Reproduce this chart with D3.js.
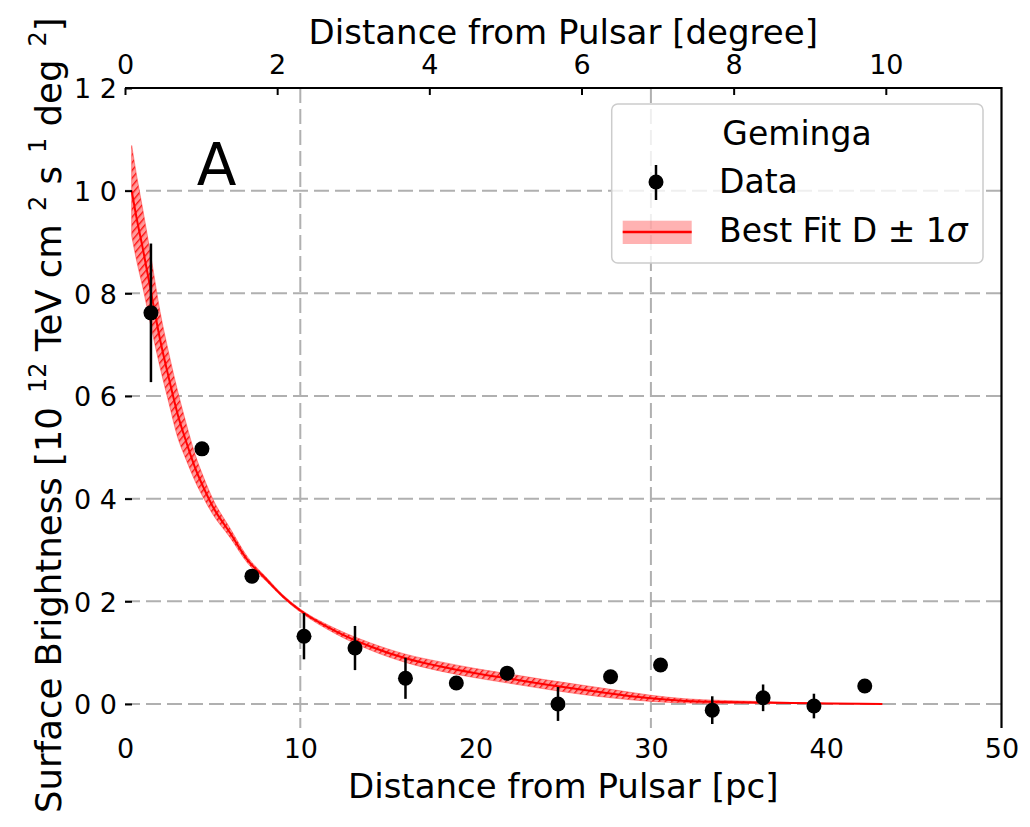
<!DOCTYPE html>
<html><head><meta charset="utf-8">
<script src="https://cdn.jsdelivr.net/npm/d3@7"></script>
<style>
html,body{margin:0;padding:0;background:#fff;}
svg text{font-family:"DejaVu Sans",sans-serif;fill:#000;}
</style></head>
<body>
<svg id="chart" width="1030" height="827"></svg>
<script>
// ---------------- data ----------------
const xTickValues = [0, 10, 20, 30, 40, 50];
const xTickLabels = ["0", "10", "20", "30", "40", "50"];
const yTickValues = [0, 0.2, 0.4, 0.6, 0.8, 1.0, 1.2];
const yTickLabels = ["0 0", "0 2", "0 4", "0 6", "0 8", "1 0", "1 2"];
const topTickValues = [0, 2, 4, 6, 8, 10];
const topTickLabels = ["0", "2", "4", "6", "8", "10"];
const xGridValues = [10, 30];
const yGridValues = [0, 0.2, 0.4, 0.6, 0.8, 1.0];
const pcPerDegree = 4.34;

// data points (pc, surface brightness, 1 sigma)
const dataX   = [1.48, 4.39, 7.24, 10.21, 13.12, 16.0, 18.9, 21.8, 24.7, 27.7, 30.55, 33.5, 36.4, 39.3, 42.2];
const dataY   = [0.762, 0.497, 0.249, 0.132, 0.109, 0.050, 0.041, 0.060, 0.000, 0.053, 0.076, -0.012, 0.012, -0.004, 0.035];
const dataErr = [0.135, 0.012, 0.010, 0.045, 0.043, 0.040, 0.008, 0.008, 0.033, 0.008, 0.008, 0.027, 0.026, 0.024, 0.008];

// best-fit curve and +-1 sigma band
const fitX     = [0.38, 0.7, 1.0, 1.5, 2.0, 2.5, 3.0, 3.5, 4.0, 4.5, 5.0, 6.0, 7.0, 8.0, 9.0, 10.0, 12.0, 14.0, 16.0, 18.0, 20.0, 22.0, 24.0, 26.0, 28.0, 30.0, 32.0, 34.0, 36.0, 38.0, 40.0, 43.2];
const fitY     = [1.000, 0.940, 0.890, 0.800, 0.710, 0.635, 0.565, 0.510, 0.460, 0.420, 0.385, 0.333, 0.280, 0.245, 0.210, 0.182, 0.142, 0.112, 0.089, 0.073, 0.060, 0.049, 0.038, 0.028, 0.019, 0.011, 0.006, 0.004, 0.003, 0.002, 0.001, 0.000];
const bandHigh = [1.088, 1.022, 0.966, 0.867, 0.764, 0.683, 0.610, 0.545, 0.486, 0.440, 0.400, 0.342, 0.286, 0.249, 0.213, 0.185, 0.147, 0.119, 0.097, 0.082, 0.069, 0.058, 0.047, 0.037, 0.027, 0.017, 0.010, 0.007, 0.005, 0.003, 0.0015, 0.000];
const bandLow  = [0.912, 0.858, 0.814, 0.733, 0.656, 0.587, 0.520, 0.475, 0.434, 0.400, 0.370, 0.324, 0.274, 0.241, 0.207, 0.179, 0.137, 0.105, 0.081, 0.064, 0.051, 0.040, 0.029, 0.019, 0.011, 0.005, 0.002, 0.001, 0.001, 0.001, 0.0005, 0.000];

// ---------------- layout ----------------
const svg = d3.select("#chart");
const L = 125, R = 1001.5, T = 88, B = 728;
const x = d3.scaleLinear().domain([0, 50]).range([L, R]);
const xTop = d3.scaleLinear().domain([0, 50 / pcPerDegree]).range([L, R]);
const y = d3.scaleLinear().domain([-0.0468, 1.2]).range([B, T]);

const defs = svg.append("defs");
const pat = defs.append("pattern").attr("id", "hatch").attr("patternUnits", "userSpaceOnUse")
  .attr("width", 5).attr("height", 5).attr("patternTransform", "rotate(40)");
pat.append("rect").attr("width", 5).attr("height", 5).attr("fill", "#ff9a9a");
pat.append("line").attr("x1", 0).attr("y1", 0).attr("x2", 0).attr("y2", 5)
  .attr("stroke", "#ff1010").attr("stroke-width", 2.8);

// grid
const grid = svg.append("g").attr("stroke", "#b0b0b0").attr("stroke-width", 2).attr("stroke-dasharray", "15,6");
grid.selectAll("line.h").data(yGridValues).join("line").attr("class", "h")
  .attr("x1", L).attr("x2", R).attr("y1", d => y(d)).attr("y2", d => y(d));
grid.selectAll("line.v").data(xGridValues).join("line").attr("class", "v")
  .attr("x1", d => x(d)).attr("x2", d => x(d)).attr("y1", T).attr("y2", B);

// band
const bandData = fitX.map((d, i) => ({x: d, lo: bandLow[i], hi: bandHigh[i], c: fitY[i]}));
svg.append("path").datum(bandData)
  .attr("d", d3.area().x(d => x(d.x)).y0(d => y(d.lo)).y1(d => y(d.hi)).curve(d3.curveMonotoneX))
  .attr("fill", "url(#hatch)").attr("stroke", "#ff3030").attr("stroke-width", 0.8).attr("stroke-opacity", 0.6);
svg.append("path").datum(bandData)
  .attr("d", d3.line().x(d => x(d.x)).y(d => y(d.c)).curve(d3.curveMonotoneX))
  .attr("fill", "none").attr("stroke", "#ff0000").attr("stroke-width", 2);

// data with error bars
const pts = dataX.map((d, i) => ({x: d, y: dataY[i], e: dataErr[i]}));
svg.append("g").selectAll("line").data(pts).join("line")
  .attr("x1", d => x(d.x)).attr("x2", d => x(d.x))
  .attr("y1", d => y(d.y - d.e)).attr("y2", d => y(d.y + d.e))
  .attr("stroke", "#000").attr("stroke-width", 2.5);
svg.append("g").selectAll("circle").data(pts).join("circle")
  .attr("cx", d => x(d.x)).attr("cy", d => y(d.y)).attr("r", 7.5).attr("fill", "#000");

// axes
const axL = svg.append("g").attr("transform", `translate(${L},0)`)
  .call(d3.axisLeft(y).tickValues(yTickValues).tickFormat((d, i) => yTickLabels[i]).tickSize(-7).tickPadding(8));
axL.select(".domain").remove();
axL.selectAll(".tick line").attr("stroke", "#000").attr("stroke-width", 2);
axL.selectAll(".tick text").attr("font-size", 27).attr("font-family", "DejaVu Sans").attr("dy", "0.36em");

const axB = svg.append("g").attr("transform", `translate(0,${B})`)
  .call(d3.axisBottom(x).tickValues(xTickValues).tickFormat((d, i) => xTickLabels[i]).tickSize(0));
axB.select(".domain").remove();
axB.selectAll(".tick text").attr("font-size", 27).attr("font-family", "DejaVu Sans").attr("y", 30).attr("dy", 0);

const axT = svg.append("g").attr("transform", `translate(0,${T})`)
  .call(d3.axisTop(xTop).tickValues(topTickValues).tickFormat((d, i) => topTickLabels[i]).tickSize(-7).tickSizeOuter(0).tickPadding(14));
axT.select(".domain").attr("stroke", "#000").attr("stroke-width", 2.2).attr("d", `M${L},0H${R}`);
axT.selectAll(".tick line").attr("stroke", "#000").attr("stroke-width", 2);
axT.selectAll(".tick text").attr("font-size", 27).attr("font-family", "DejaVu Sans");

svg.append("line").attr("x1", R).attr("x2", R).attr("y1", T - 1).attr("y2", B)
  .attr("stroke", "#000").attr("stroke-width", 2.2);

// axis labels
svg.append("text").attr("x", (L + R) / 2).attr("y", 44).attr("text-anchor", "middle")
  .attr("font-size", 34).text("Distance from Pulsar [degree]");
svg.append("text").attr("x", (L + R) / 2).attr("y", 798).attr("text-anchor", "middle")
  .attr("font-size", 34).text("Distance from Pulsar [pc]");

const yl = svg.append("text").attr("transform", "translate(61,813) rotate(-90)").attr("font-size", 35.5);
const parts = [
  ["Surface Brightness [10", false, 0],
  ["12", true, 14],
  [" TeV cm", false, 0],
  ["2", true, 13],
  [" s", false, 0],
  ["1", true, 13],
  [" deg", false, 0],
  ["2", true, 13],
  ["]", false, 0]
];
parts.forEach(([t, sup, dx], i) => {
  const prevSup = i > 0 && parts[i - 1][1];
  yl.append("tspan").attr("dx", dx)
    .attr("dy", sup ? -15 : (prevSup ? 15 : 0))
    .attr("font-size", sup ? 24 : 35.5).text(t);
});

// panel letter
svg.append("text").attr("x", 216.7).attr("y", 185).attr("text-anchor", "middle").attr("font-size", 58).text("A");

// legend
const lg = svg.append("g");
lg.append("rect").attr("x", 611.7).attr("y", 104).attr("width", 371.3).attr("height", 159).attr("rx", 6)
  .attr("fill", "#fff").attr("fill-opacity", 0.8).attr("stroke", "#cccccc").attr("stroke-width", 1.5);
lg.append("text").attr("x", 797).attr("y", 145).attr("text-anchor", "middle").attr("font-size", 33).text("Geminga");
lg.append("line").attr("x1", 656).attr("x2", 656).attr("y1", 165).attr("y2", 200).attr("stroke", "#000").attr("stroke-width", 2.5);
lg.append("circle").attr("cx", 656).attr("cy", 182).attr("r", 7.5).attr("fill", "#000");
lg.append("text").attr("x", 719).attr("y", 193.3).attr("font-size", 33).text("Data");
lg.append("rect").attr("x", 622.7).attr("y", 220.7).attr("width", 69).attr("height", 23.3).attr("fill", "#ff0000").attr("fill-opacity", 0.3);
lg.append("line").attr("x1", 622.7).attr("x2", 691.7).attr("y1", 232).attr("y2", 232).attr("stroke", "#ff0000").attr("stroke-width", 2.5);
const bt = lg.append("text").attr("x", 719).attr("y", 241.7).attr("font-size", 33);
bt.append("tspan").text("Best Fit D \u00b1 1");
bt.append("tspan").attr("font-style", "italic").text("\u03c3");
</script>
</body></html>
